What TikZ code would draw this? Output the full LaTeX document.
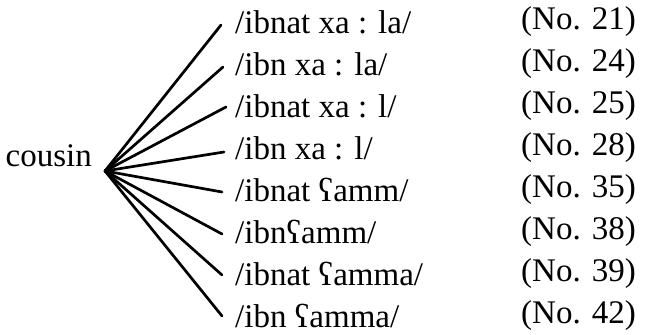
\documentclass[tikz,border=0pt]{standalone}
\usepackage{fontspec}
\setmainfont{Liberation Serif}
\begin{document}
\begin{tikzpicture}[x=1pt,y=1pt,
  every node/.style={font=\fontsize{33}{39}\selectfont, inner sep=0pt},
  form/.style={anchor=west},
  num/.style={anchor=west},
  branch/.style={line width=2.7pt, line cap=round}]
\useasboundingbox (0,0) rectangle (654,335);
\coordinate (hub) at (105,164);
\node[anchor=base east] (cousin) at (92,168) {cousin};
% end points of the branches
\coordinate (e1) at (221,310);
\coordinate (e2) at (223,268);
\coordinate (e3) at (226,228);
\coordinate (e4) at (224,183);
\coordinate (e5) at (222,143);
\coordinate (e6) at (222,101);
\coordinate (e7) at (222,60);
\coordinate (e8) at (222,19);
% forms
\node[form] (f1) at (235,313) {/ibnat xa : la/};
\node[form] (f2) at (235,271) {/ibn xa : la/};
\node[form] (f3) at (235,229) {/ibnat xa : l/};
\node[form] (f4) at (235,187) {/ibn xa : l/};
\node[form] (f5) at (235,145) {/ibnat ʕamm/};
\node[form] (f6) at (235,103) {/ibnʕamm/};
\node[form] (f7) at (235,61) {/ibnat ʕamma/};
\node[form] (f8) at (235,19) {/ibn ʕamma/};
% numbers
\node[num] (n1) at (521,313) {(No. 21)};
\node[num] (n2) at (521,271) {(No. 24)};
\node[num] (n3) at (521,229) {(No. 25)};
\node[num] (n4) at (521,187) {(No. 28)};
\node[num] (n5) at (521,145) {(No. 35)};
\node[num] (n6) at (521,103) {(No. 38)};
\node[num] (n7) at (521,61) {(No. 39)};
\node[num] (n8) at (521,19) {(No. 42)};
% branches
\foreach \k in {1,...,8} \draw[branch] (hub) -- (e\k);
\end{tikzpicture}
\end{document}
